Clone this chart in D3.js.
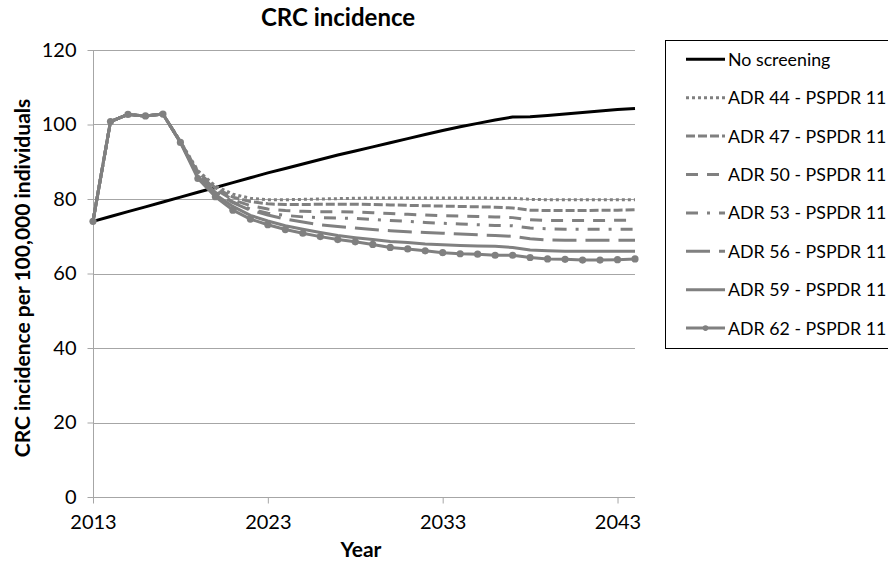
<!DOCTYPE html>
<html>
<head>
<meta charset="utf-8">
<script src="https://cdn.jsdelivr.net/npm/d3@7"></script>
<style>
  html, body { margin: 0; padding: 0; background: #fff; }
  svg { display: block; font-family: Lato, "Open Sans", sans-serif; }
</style>
</head>
<body>
<svg id="chart" width="888" height="564"></svg>
<script>
// ---------- DATA ----------
const years = d3.range(2013, 2045); // 2013..2044
const xTickValues = [2013, 2023, 2033, 2043];
const yTickValues = [0, 20, 40, 60, 80, 100, 120];

const noScreening = [74.0, 75.3, 76.6, 77.9, 79.2, 80.5, 81.8, 83.1, 84.4, 85.7,
  87.0, 88.2, 89.4, 90.6, 91.8, 92.9, 94.0, 95.1, 96.2, 97.3,
  98.4, 99.4, 100.3, 101.2, 102.0, 102.1, 102.4, 102.8, 103.2, 103.6, 104.0, 104.3];

const adr44 = [74.0, 100.8, 102.7, 102.3, 102.8, 95.4, 87.6, 83.5, 81.3, 80.2,
  79.8, 79.8, 79.9, 80.0, 80.1, 80.2, 80.3, 80.3, 80.3, 80.3,
  80.3, 80.3, 80.3, 80.2, 80.2, 79.9, 79.8, 79.8, 79.8, 79.8, 79.8, 79.8];

const adr47 = [74.0, 100.8, 102.7, 102.3, 102.8, 95.4, 87.3, 83.0, 80.5, 79.3,
  78.7, 78.5, 78.5, 78.6, 78.6, 78.6, 78.5, 78.4, 78.3, 78.2,
  78.1, 78.0, 77.9, 77.8, 77.6, 77.0, 76.9, 76.9, 76.9, 77.0, 77.0, 77.1];

const adr50 = [74.0, 100.8, 102.7, 102.3, 102.8, 95.3, 87.0, 82.6, 79.8, 78.2,
  77.3, 76.9, 76.7, 76.6, 76.6, 76.5, 76.3, 76.1, 75.9, 75.7,
  75.5, 75.4, 75.3, 75.2, 75.0, 74.4, 74.2, 74.2, 74.2, 74.2, 74.3, 74.3];

const adr53 = [74.0, 100.8, 102.7, 102.3, 102.8, 95.3, 86.6, 82.2, 79.2, 77.3,
  76.2, 75.6, 75.2, 75.0, 74.9, 74.8, 74.5, 74.2, 74.0, 73.7,
  73.5, 73.3, 73.1, 72.9, 72.8, 72.2, 72.0, 71.9, 71.9, 71.9, 71.9, 71.9];

const adr56 = [74.0, 100.8, 102.7, 102.3, 102.8, 95.2, 86.3, 81.8, 79.0, 77.0,
  75.7, 74.6, 73.8, 73.1, 72.6, 72.2, 71.8, 71.5, 71.2, 71.0,
  70.8, 70.6, 70.4, 70.2, 70.0, 69.3, 69.0, 68.9, 68.9, 68.9, 68.9, 68.9];

const adr59 = [74.0, 100.8, 102.7, 102.3, 102.8, 95.2, 86.0, 81.2, 78.0, 75.6,
  74.1, 72.8, 71.9, 71.0, 70.2, 69.6, 69.1, 68.6, 68.3, 67.9,
  67.7, 67.5, 67.4, 67.3, 67.0, 66.3, 66.1, 66.0, 66.0, 66.0, 66.0, 66.0];

const adr62 = [74.0, 100.8, 102.7, 102.3, 102.8, 95.2, 85.5, 80.6, 77.0, 74.6,
  73.1, 71.8, 70.8, 69.9, 69.1, 68.5, 67.8, 67.0, 66.6, 66.1,
  65.6, 65.3, 65.2, 64.9, 64.9, 64.3, 63.9, 63.8, 63.6, 63.6, 63.7, 63.9];

const seriesNames = ["No screening", "ADR 44 - PSPDR 11", "ADR 47 - PSPDR 11", "ADR 50 - PSPDR 11",
  "ADR 53 - PSPDR 11", "ADR 56 - PSPDR 11", "ADR 59 - PSPDR 11", "ADR 62 - PSPDR 11"];
const seriesValues = [noScreening, adr44, adr47, adr50, adr53, adr56, adr59, adr62];

// ---------- STYLES ----------
const styles = [
  { color: "#000000", width: 3, dash: null, marker: false },
  { color: "#808080", width: 3, dash: "3,3", marker: false },
  { color: "#808080", width: 3, dash: "9,3", marker: false },
  { color: "#808080", width: 3, dash: "12,9", marker: false },
  { color: "#808080", width: 3, dash: "12,9,3,9", marker: false },
  { color: "#808080", width: 3, dash: "24,9", marker: false },
  { color: "#808080", width: 3, dash: null, marker: false },
  { color: "#808080", width: 3, dash: null, marker: true }
];

// ---------- LAYOUT ----------
const svg = d3.select("#chart");
const plot = { left: 93, right: 635, top: 50, bottom: 497 };
const x = d3.scaleLinear().domain([2013, 2044]).range([plot.left, plot.right]);
const y = d3.scaleLinear().domain([0, 120]).range([plot.bottom, plot.top]);
const gridColor = "#a6a6a6";
const tickFont = 20;

// gridlines
svg.append("g").selectAll("line").data(yTickValues.filter(v => v > 0)).join("line")
  .attr("x1", plot.left).attr("x2", plot.right)
  .attr("y1", d => Math.round(y(d)) + 0.5).attr("y2", d => Math.round(y(d)) + 0.5)
  .attr("stroke", gridColor).attr("stroke-width", 1);

// y axis
const yAxis = d3.axisLeft(y).tickValues(yTickValues).tickSize(6).tickPadding(11)
  .tickFormat(d3.format("d"));
const gy = svg.append("g").attr("transform", `translate(${plot.left + 0.5},0)`).call(yAxis);
gy.select(".domain").attr("stroke", gridColor).attr("d", `M0,${plot.top}V${plot.bottom}`);
gy.selectAll(".tick line").attr("stroke", gridColor);
gy.selectAll(".tick text").attr("font-size", tickFont).attr("fill", "#000")
  .attr("font-family", "Lato, sans-serif");

// x axis
const xAxis = d3.axisBottom(x).tickValues(xTickValues).tickSize(6).tickPadding(11)
  .tickFormat(d3.format("d"));
const gx = svg.append("g").attr("transform", `translate(0,${plot.bottom + 0.5})`).call(xAxis);
gx.select(".domain").attr("stroke", gridColor).attr("d", `M${plot.left},0H${plot.right}`);
gx.selectAll(".tick line").attr("stroke", gridColor);
gx.selectAll(".tick text").attr("font-size", tickFont).attr("fill", "#000")
  .attr("font-family", "Lato, sans-serif");

// lines
const line = d3.line().x((d, i) => x(years[i])).y(d => y(d));
seriesValues.forEach((vals, k) => {
  const st = styles[k];
  svg.append("path").datum(vals)
    .attr("d", line)
    .attr("fill", "none")
    .attr("stroke", st.color)
    .attr("stroke-width", st.width)
    .attr("stroke-linejoin", "round")
    .attr("stroke-dasharray", st.dash);
  if (st.marker) {
    svg.append("g").selectAll("circle").data(vals).join("circle")
      .attr("cx", (d, i) => x(years[i])).attr("cy", d => y(d))
      .attr("r", 3.6).attr("fill", st.color);
  }
});

// titles
svg.append("text").attr("x", 338).attr("y", 26).attr("text-anchor", "middle")
  .attr("font-size", 24).attr("font-weight", "bold").text("CRC incidence");
svg.append("text").attr("x", 361).attr("y", 557).attr("text-anchor", "middle")
  .attr("font-size", 21).attr("font-weight", "bold").text("Year");
svg.append("text").attr("transform", "translate(30,278) rotate(-90)").attr("text-anchor", "middle")
  .attr("font-size", 21).attr("font-weight", "bold").text("CRC incidence per 100,000 individuals");

// legend
const lg = svg.append("g");
lg.append("rect").attr("x", 665.5).attr("y", 40.5).attr("width", 260).attr("height", 308)
  .attr("fill", "#fff").attr("stroke", "#000").attr("stroke-width", 1);
seriesNames.forEach((name, k) => {
  const st = styles[k];
  const cy = 59.3 + 38.4 * k;
  lg.append("line").attr("x1", 686).attr("x2", 725).attr("y1", cy).attr("y2", cy)
    .attr("stroke", st.color).attr("stroke-width", st.width).attr("stroke-dasharray", st.dash);
  if (st.marker) {
    lg.append("circle").attr("cx", 705.5).attr("cy", cy).attr("r", 2.8).attr("fill", st.color);
  }
  lg.append("text").attr("x", 728).attr("y", cy).attr("dy", "0.36em")
    .attr("font-size", 17.8).attr("fill", "#000").text(name);
});
</script>
</body>
</html>
